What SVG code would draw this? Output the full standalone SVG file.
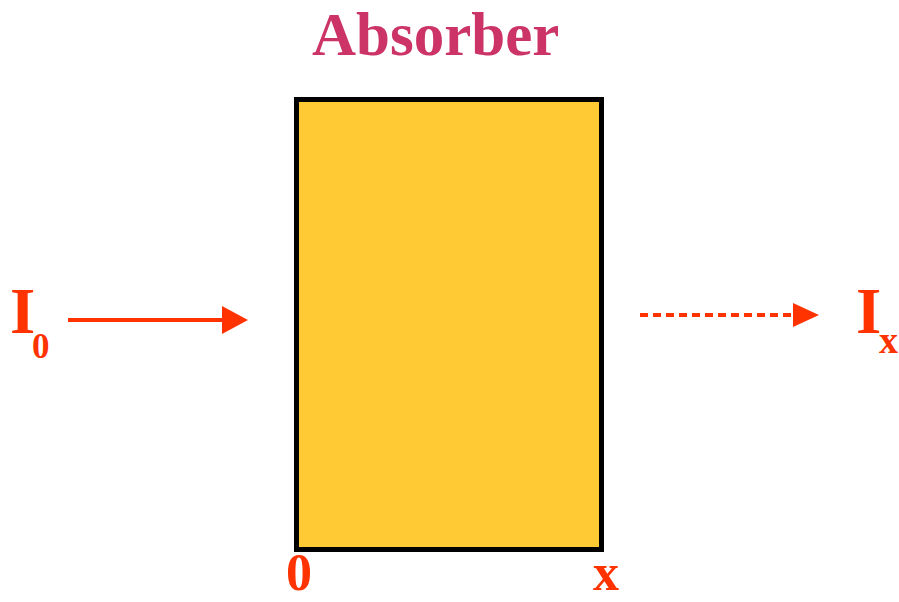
<svg xmlns="http://www.w3.org/2000/svg" width="899" height="602" viewBox="0 0 899 602">
<style>
.lbl{font-family:"Liberation Serif","Times New Roman",serif;font-weight:bold;fill:#FF3300}
.title{font-family:"Liberation Serif","Times New Roman",serif;font-weight:bold;fill:#CC3366;font-size:61px}
</style>
<defs>
<marker id="ah1" markerUnits="userSpaceOnUse" markerWidth="26" markerHeight="28" refX="0" refY="14" orient="auto" viewBox="0 0 26 28"><path d="M0,0 L26,14 L0,28 Z" fill="#FF3300"/></marker>
<marker id="ah2" markerUnits="userSpaceOnUse" markerWidth="26" markerHeight="24" refX="0" refY="12" orient="auto" viewBox="0 0 26 24"><path d="M0,0 L26,12 L0,24 Z" fill="#FF3300"/></marker>
</defs>
<rect width="899" height="602" fill="#FFFFFF"/>
<g id="absorber">
<rect x="296.5" y="99.5" width="305" height="450" fill="#FFCA33" stroke="#000000" stroke-width="5"/>
<text class="title" x="312" y="55">Absorber</text>
</g>
<g id="I0">
<text class="lbl" x="10" y="333" font-size="65">I</text>
<text class="lbl" x="32" y="358" font-size="35">0</text>
</g>
<g id="Ix">
<text class="lbl" x="856" y="333" font-size="65">I</text>
<text class="lbl" x="879" y="353" font-size="38">x</text>
</g>
<g id="axis">
<text class="lbl" x="286" y="590" font-size="52">0</text>
<text class="lbl" x="593" y="590" font-size="52">x</text>
</g>
<g id="connectors">
<line x1="68" y1="320" x2="222" y2="320" stroke="#FF3300" stroke-width="4" marker-end="url(#ah1)"/>
<line x1="640" y1="315" x2="793" y2="315" stroke="#FF3300" stroke-width="4" stroke-dasharray="8 5" marker-end="url(#ah2)"/>
</g>
</svg>
